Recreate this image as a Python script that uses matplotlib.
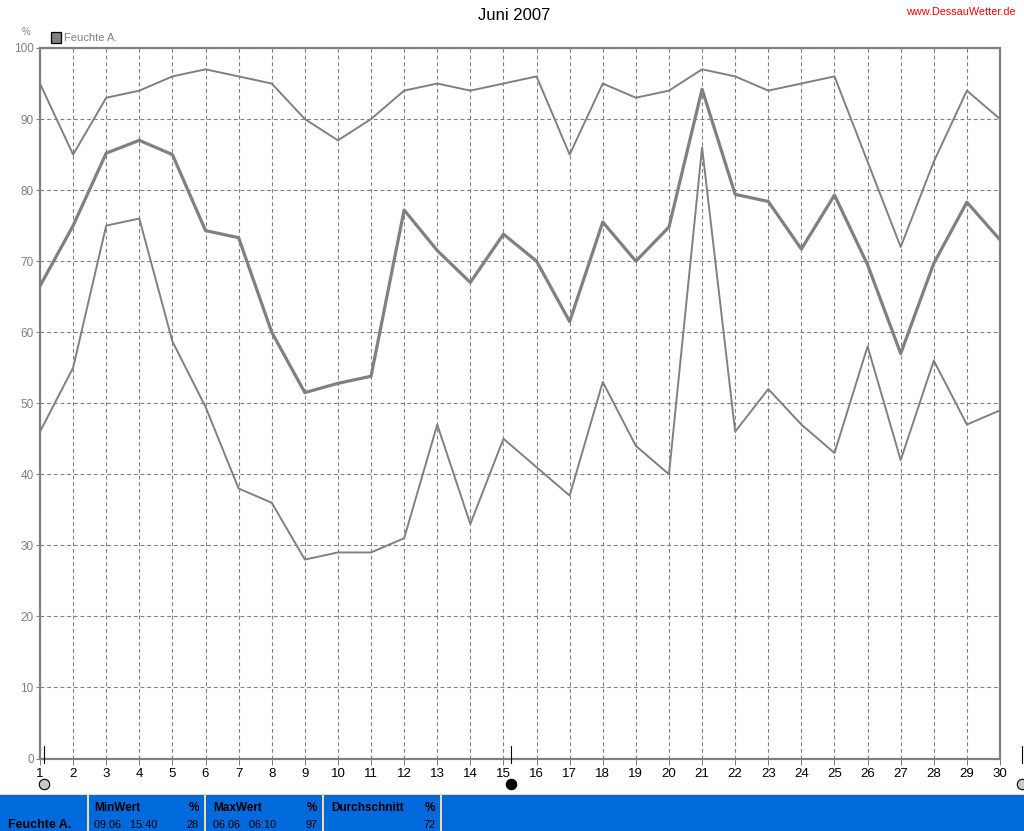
#!/usr/bin/env python3
"""Monthly humidity chart, June 2007."""

import matplotlib
matplotlib.use("Agg")
import matplotlib.pyplot as plt
from matplotlib.patches import Rectangle

W, H = 1024, 831
GREY = "#808080"
BLUE = "#0069DC"
CREAM = "#F0DCA0"

days = list(range(1, 31))
hum_max = [95, 85, 93, 94, 96, 97, 96, 95, 90, 87, 90, 94, 95, 94, 95,
           96, 85, 95, 93, 94, 97, 96, 94, 95, 96, 84, 72, 84, 94, 90]
hum_avg = [66.5, 75, 85.2, 87, 85, 74.3, 73.3, 60, 51.5, 52.8, 53.8, 77.2, 71.5, 67, 73.8,
           70, 61.5, 75.5, 70, 74.8, 94.2, 79.4, 78.4, 71.7, 79.3, 69.5, 57, 69.7, 78.3, 73]
hum_min = [46, 55, 75, 76, 58.7, 49.5, 38, 36, 28, 29, 29, 31, 47, 33, 45,
           41, 37, 53, 44, 40, 86, 46, 52, 47, 43, 58, 42, 56, 47, 49]
y_ticks = list(range(0, 101, 10))

# moon phases: (day position, face colour)
moons = [(1.12, "#C8C8C8"), (15.23, "#000000"), (30.67, "#C8C8C8")]

# footer cells: (left px, heading, date text, value)
cells = [(93, "MinWert", "09.06.  15:40", "28"),
         (212, "MaxWert", "06.06.  06:10", "97"),
         (330, "Durchschnitt", "", "72")]
cell_ends = [199, 317, 435]
dividers = [87, 204, 322, 440]

plt.rcParams["font.family"] = ["Liberation Sans", "DejaVu Sans"]

fig = plt.figure(figsize=(W / 100, H / 100), dpi=100, facecolor="white")
ax = fig.add_axes([40 / W, 1 - 758.5 / H, 960 / W, 710.5 / H])


def px(x, y):
    """Pixel position to figure fraction."""
    return x / W, 1 - y / H


def add_box(x, y, w, h, **kw):
    """Rectangle on the figure, x/y = lower left in pixels, w/h in pixels."""
    fig.patches.append(Rectangle(px(x, y), w / W, h / H, transform=fig.transFigure,
                                 figure=fig, **kw))


for vals, lw in ((hum_max, 1.4), (hum_min, 1.4), (hum_avg, 2.3)):
    ax.plot(days, vals, color=GREY, lw=lw, zorder=3, solid_joinstyle="round")

ax.set_xlim(1, 30)
ax.set_ylim(0, 100)
ax.set_xticks(days)
ax.set_yticks(y_ticks)
ax.grid(color=GREY, linestyle=(0, (3.5, 2.5)), linewidth=0.8)
ax.set_axisbelow(True)
ax.tick_params(axis="x", length=4, width=0.72, color=GREY, labelsize=9.5, pad=2.5, labelcolor="black")
ax.tick_params(axis="y", length=3, width=0.72, color=GREY, labelsize=8.5, pad=1.5, labelcolor=GREY)
for s in ax.spines.values():
    s.set_color(GREY)
    s.set_linewidth(1.6)

# moon phase ticks and symbols
trans = ax.get_xaxis_transform()
for d, col in moons:
    ax.plot([d, d], [-0.006, 0.017], transform=trans, color="black", lw=0.8,
            clip_on=False, zorder=4)
    ax.plot([d], [-0.0355], transform=trans, marker="o", ms=7.5, mfc=col, mec="black",
            mew=0.8, clip_on=False, zorder=4)

# header texts
fig.text(*px(514, 15), "Juni 2007", ha="center", va="center", fontsize=12)
fig.text(*px(1016, 12), "www.DessauWetter.de", ha="right", va="center", fontsize=7.8, color="#FF0000")
fig.text(*px(26, 32), "%", ha="center", va="center", fontsize=7, color=GREY)
add_box(50.5, 42.5, 10, 10, fc=GREY, ec="black", lw=0.9)
fig.text(*px(64, 38), "Feuchte A.", ha="left", va="center", fontsize=8, color=GREY)

# footer band
add_box(0, 831, W, 36, fc=BLUE, ec="none")
add_box(0, 795, W, 1, fc=CREAM, ec="none")
for d in dividers:
    add_box(d, 831, 1.5, 36, fc=CREAM, ec="none")

fig.text(*px(8, 825), "Feuchte A.", ha="left", va="center", fontsize=9, fontweight="bold", color="black")
for (left, head, when, val), end in zip(cells, cell_ends):
    fig.text(*px(left + 1, 808), head, ha="left", va="center", fontsize=8.5, fontweight="bold")
    fig.text(*px(end, 808), "%", ha="right", va="center", fontsize=8.5, fontweight="bold")
    if when:
        fig.text(*px(left + 1, 825), when, ha="left", va="center", fontsize=7.8)
    fig.text(*px(end, 825), val, ha="right", va="center", fontsize=7.8)

fig.savefig("out.png", dpi=100)
